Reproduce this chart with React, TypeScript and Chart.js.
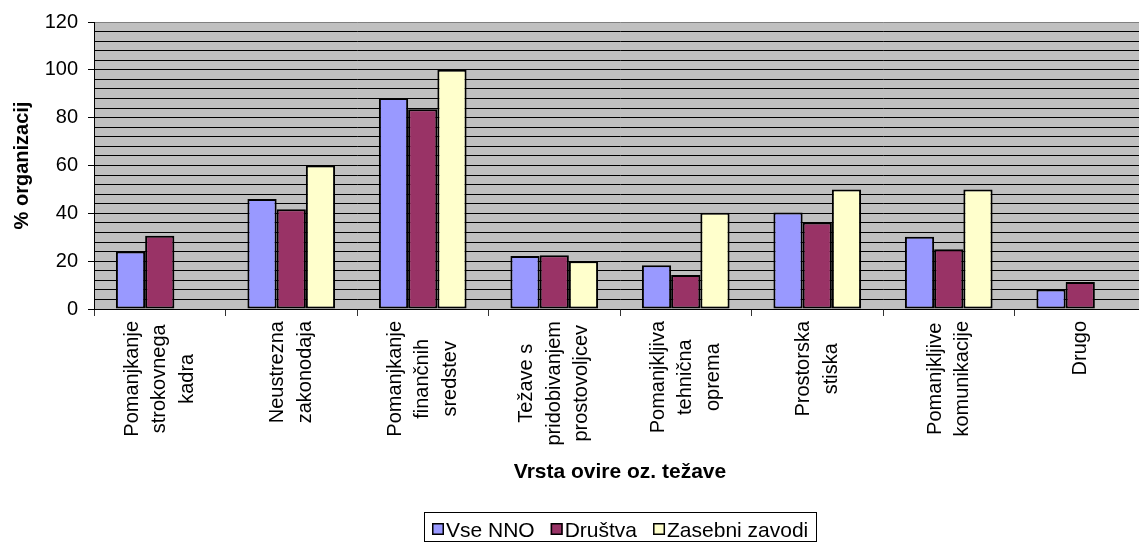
import React, { useEffect, useRef } from "react";
import { Chart, registerables } from "chart.js";

Chart.register(...registerables);

const FONT = '"Liberation Sans", Arial, sans-serif';

const categories: string[][] = [
  ["Pomanjkanje", "strokovnega", "kadra"],
  ["Neustrezna", "zakonodaja"],
  ["Pomanjkanje", "finančnih", "sredstev"],
  ["Težave s", "pridobivanjem", "prostovoljcev"],
  ["Pomanjkljiva", "tehnična", "oprema"],
  ["Prostorska", "stiska"],
  ["Pomanjkljive", "komunikacije"],
  ["Drugo"],
];

const seriesNames = ["Vse NNO", "Društva", "Zasebni zavodi"];
const seriesColors = ["#9999FF", "#993366", "#FFFFCC"];

const vseNNO = [24, 46, 88.2, 22.2, 18.3, 40.3, 30.2, 8.2];
const drustva = [30.6, 41.7, 83.5, 22.5, 14.2, 36.2, 25, 11.3];
const zasebni: (number | null)[] = [null, 60, 100, 20, 40.2, 50, 50, null];

const yMin = 0;
const yMax = 120;
const yGridStep = 4;
const yLabelStep = 20;

const yTitle = "% organizacij";
const xTitle = "Vrsta ovire oz. težave";

const bgPlugin = {
  id: "plotBg",
  beforeDraw(chart: any) {
    const { ctx, chartArea } = chart;
    ctx.save();
    ctx.fillStyle = "#C0C0C0";
    ctx.fillRect(chartArea.left, chartArea.top, chartArea.right - chartArea.left, chartArea.bottom - chartArea.top);
    ctx.restore();
  },
};

const labelsPlugin = {
  id: "xLabelsLegend",
  afterDraw(chart: any) {
    const { ctx, chartArea } = chart;
    const xs = chart.scales.x;
    ctx.save();
    // category labels (rotated, multi-line, centred like Excel)
    ctx.font = `20px ${FONT}`;
    ctx.fillStyle = "#000";
    ctx.textAlign = "center";
    ctx.textBaseline = "middle";
    const LH = 27.5;
    const top = chartArea.bottom + 12;
    (chart.data.labels as any[]).forEach((lab, i) => {
      const lines: string[] = Array.isArray(lab) ? lab : [String(lab)];
      const maxW = Math.max(...lines.map((l) => ctx.measureText(l).width));
      const cy = top + maxW / 2;
      const cx = xs.getPixelForValue(i);
      lines.forEach((ln, j) => {
        const lx = cx + (j - (lines.length - 1) / 2) * LH;
        ctx.save();
        ctx.translate(lx, cy);
        ctx.rotate(-Math.PI / 2);
        ctx.fillText(ln, 0, 0);
        ctx.restore();
      });
    });

    // legend
    ctx.font = `21px ${FONT}`;
    ctx.textAlign = "left";
    ctx.textBaseline = "alphabetic";
    const marker = 12;
    const gapT = 2;
    const gapItem = 16;
    const pad = 8;
    const ds = chart.data.datasets;
    const widths = ds.map((d: any) => ctx.measureText(d.label).width);
    const total =
      pad * 2 +
      widths.reduce((a: number, w: number) => a + marker + gapT + w, 0) +
      gapItem * (ds.length - 1);
    const cxL = (chartArea.left + chartArea.right) / 2;
    let x = Math.round(cxL - total / 2);
    const boxTop = 512;
    const boxH = 29;
    ctx.strokeStyle = "#000";
    ctx.lineWidth = 1;
    ctx.strokeRect(x + 0.5, boxTop + 0.5, Math.round(total), boxH);
    x += pad;
    ds.forEach((d: any, i: number) => {
      ctx.fillStyle = d.backgroundColor;
      ctx.fillRect(x, 523, marker, marker);
      ctx.lineWidth = 1.5;
      ctx.strokeStyle = "#000";
      ctx.strokeRect(x + 0.75, 523.75, marker - 1.5, marker - 1.5);
      ctx.fillStyle = "#000";
      ctx.fillText(d.label, x + marker + gapT, 537);
      x += marker + gapT + widths[i] + gapItem;
    });
    ctx.restore();
  },
};

export default function App() {
  const ref = useRef<HTMLCanvasElement | null>(null);

  useEffect(() => {
    if (!ref.current) return;
    Chart.defaults.font.family = FONT;
    const series = [vseNNO, drustva, zasebni];
    const chart = new Chart(ref.current, {
      type: "bar",
      data: {
        labels: categories as any,
        datasets: series.map((data, i) => ({
          label: seriesNames[i],
          data: data as any,
          backgroundColor: seriesColors[i],
          borderColor: "#000",
          borderWidth: 2,
          borderSkipped: false,
          barPercentage: 1,
          categoryPercentage: 3 / 4.5,
        })),
      },
      options: {
        responsive: false,
        animation: false,
        devicePixelRatio: 1,
        layout: { padding: { left: 0, right: 94, top: 22, bottom: 0 } },
        plugins: {
          legend: { display: false },
          tooltip: { enabled: false },
        },
        scales: {
          x: {
            offset: true,
            grid: {
              offset: true,
              drawOnChartArea: false,
              drawTicks: true,
              tickLength: 7,
              tickColor: "#333",
            },
            border: { display: true, color: "#000", width: 1 },
            ticks: { display: false },
            title: {
              display: true,
              text: xTitle,
              color: "#000",
              font: { size: 21, weight: "bold", family: FONT },
              padding: { top: 0, bottom: 58 },
            },
            afterFit: (s: any) => {
              s.height = 234;
            },
          },
          y: {
            min: yMin,
            max: yMax,
            ticks: {
              stepSize: yGridStep,
              autoSkip: false,
              padding: 10,
              color: "#000",
              font: { size: 20, family: FONT },
              callback: (v: any) => (Number(v) % yLabelStep === 0 ? String(v) : ""),
            },
            grid: {
              color: (c: any) => (c.tick && c.tick.value === yMax ? "#808080" : "#000"),
              lineWidth: 1,
              drawTicks: true,
              tickLength: 6,
              tickColor: (c: any) =>
                c.tick && c.tick.value % yLabelStep === 0 ? "#000" : "rgba(0,0,0,0)",
            },
            border: { display: true, color: "#000", width: 1 },
            title: {
              display: true,
              text: yTitle,
              color: "#000",
              font: { size: 20, weight: "bold", family: FONT },
              padding: { top: 10, bottom: 0 },
            },
            afterFit: (s: any) => {
              s.width = 94;
            },
          },
        },
      } as any,
      plugins: [bgPlugin, labelsPlugin],
    });
    return () => chart.destroy();
  }, []);

  return (
    <div
      style={{
        position: "fixed",
        left: 0,
        top: 0,
        width: 1139,
        height: 543,
        overflow: "hidden",
        background: "#fff",
      }}
    >
      <canvas ref={ref} width={1240} height={543} style={{ display: "block" }} />
    </div>
  );
}
